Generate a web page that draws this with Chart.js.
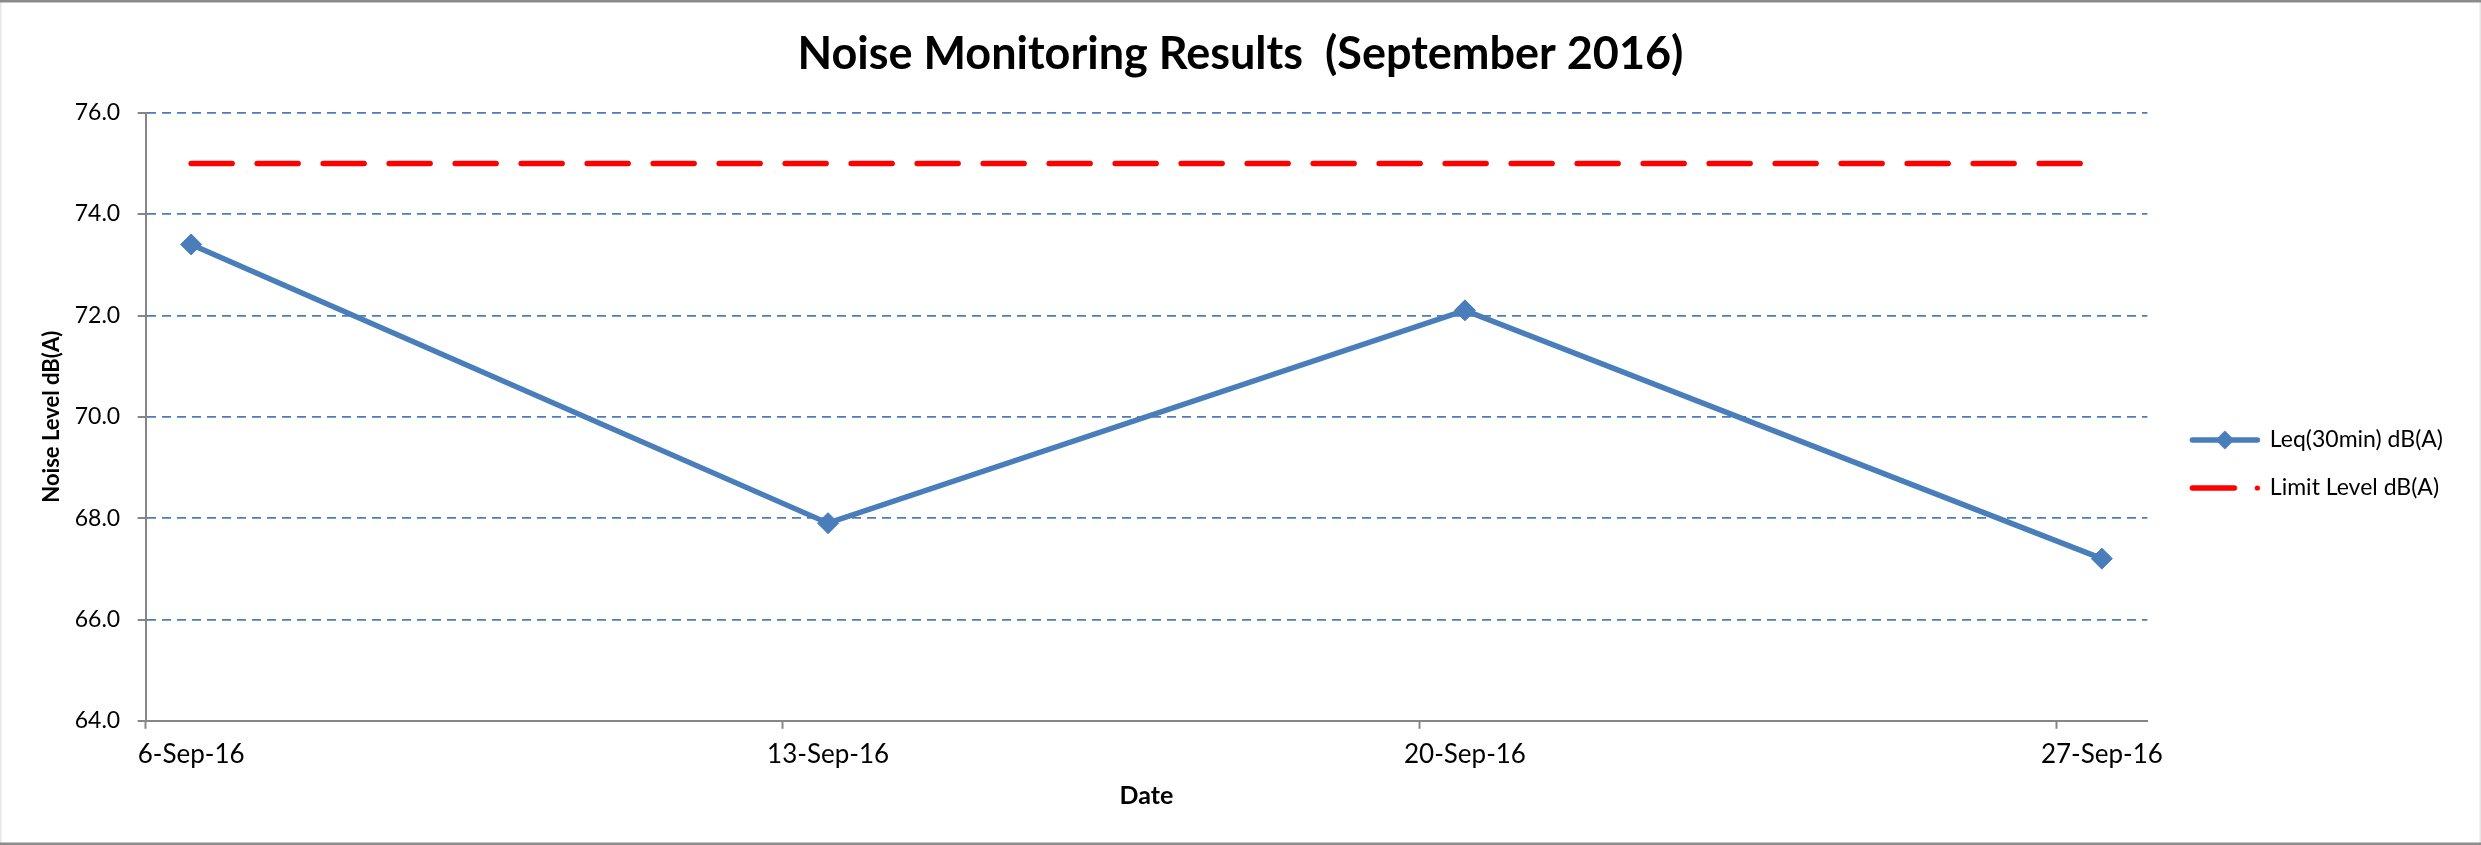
<!DOCTYPE html>
<html>
<head>
<meta charset="utf-8">
<script src="https://cdn.jsdelivr.net/npm/chart.js@4.4.0/dist/chart.umd.min.js"></script>
<style>
  html, body { margin: 0; padding: 0; background: #fff; }
  #wrap { width: 2481px; height: 845px; }
</style>
</head>
<body>
<div id="wrap"><canvas id="chart" width="2481" height="845"></canvas></div>
<script>
// values
const dates = ['2016-09-06', '2016-09-13', '2016-09-20', '2016-09-27'];
const tickLabels = ['6-Sep-16', '13-Sep-16', '20-Sep-16', '27-Sep-16'];
const leqValues = [73.4, 67.9, 72.1, 67.2];
const limitValues = [75, 75, 75, 75];
const axisStart = '2016-09-06';
const axisEnd = '2016-09-28';
const yMin = 64, yMax = 76, yStep = 2;

const BLUE = '#4a7ebb';
const RED = '#ff0000';
const GRID = '#4a7ebb';
const AXIS = '#868686';
const FONT = 'Lato';

const DAY = 86400000;
const dayOf = d => (Date.parse(d) - Date.parse(axisStart)) / DAY;
// excel date axis puts each point in the middle of its day slot
const points = vals => dates.map((d, i) => ({ x: dayOf(d) + 0.5, y: vals[i] }));
const tickDays = dates.map(dayOf);

// legend symbols, drawn the way excel shows them
const ICON_X = 20.5;
function legendIcon(draw) {
  const c = document.createElement('canvas');
  c.width = 93;
  c.height = 24;
  draw(c.getContext('2d'));
  return c;
}

const leqIcon = legendIcon(ctx => {
  ctx.strokeStyle = BLUE;
  ctx.lineWidth = 5.5;
  ctx.lineCap = 'round';
  ctx.beginPath();
  ctx.moveTo(ICON_X + 3, 12);
  ctx.lineTo(ICON_X + 68, 12);
  ctx.stroke();
  ctx.fillStyle = BLUE;
  const cx = ICON_X + 35.5;
  ctx.beginPath();
  ctx.moveTo(cx, 2.5);
  ctx.lineTo(cx + 9.5, 12);
  ctx.lineTo(cx, 21.5);
  ctx.lineTo(cx - 9.5, 12);
  ctx.closePath();
  ctx.fill();
});

const limitIcon = legendIcon(ctx => {
  ctx.strokeStyle = RED;
  ctx.lineWidth = 5.5;
  ctx.lineCap = 'round';
  ctx.beginPath();
  ctx.moveTo(ICON_X + 3, 12);
  ctx.lineTo(ICON_X + 45, 12);
  ctx.stroke();
  ctx.fillStyle = RED;
  ctx.beginPath();
  ctx.arc(ICON_X + 68, 12, 2.6, 0, Math.PI * 2);
  ctx.fill();
});

const frame = {
  id: 'frame',
  beforeDraw(chart) {
    const { ctx, width, height } = chart;
    ctx.save();
    ctx.fillStyle = '#fff';
    ctx.fillRect(0, 0, width, height);
    ctx.restore();
  },
  afterDraw(chart) {
    const { ctx, width, height } = chart;
    ctx.save();
    ctx.fillStyle = '#e6e6e6';
    ctx.fillRect(0, 0, 1.5, height);
    ctx.fillRect(width - 1.5, 0, 1.5, height);
    ctx.fillStyle = '#8c8c8c';
    ctx.fillRect(0, 0, width, 2.5);
    ctx.fillRect(0, height - 2.5, width, 2.5);
    ctx.restore();
  }
};

new Chart(document.getElementById('chart'), {
  type: 'line',
  data: {
    datasets: [
      {
        label: 'Leq(30min) dB(A)',
        data: points(leqValues),
        borderColor: BLUE,
        backgroundColor: BLUE,
        borderWidth: 5.5,
        pointStyle: 'rectRot',
        pointRadius: 10.5,
        pointBorderWidth: 1,
        tension: 0
      },
      {
        label: 'Limit Level dB(A)',
        data: points(limitValues),
        borderColor: RED,
        backgroundColor: RED,
        borderWidth: 5.5,
        borderDash: [41, 25],
        borderCapStyle: 'round',
        pointRadius: 0,
        tension: 0
      }
    ]
  },
  options: {
    responsive: false,
    animation: false,
    devicePixelRatio: 1,
    layout: { padding: { left: 28, right: 28, top: 0, bottom: 34 } },
    plugins: {
      title: {
        display: true,
        text: 'Noise Monitoring Results  (September 2016)',
        color: '#000',
        font: { family: FONT, size: 45, weight: 'bold', lineHeight: 1.2 },
        padding: { top: 27, bottom: 31.7 }
      },
      legend: {
        position: 'right',
        fullSize: false,
        align: 'center',
        title: { display: true, text: ' ', font: { size: 12 }, padding: { top: 80, bottom: 0 } },
        labels: {
          usePointStyle: true,
          pointStyleWidth: 86,
          padding: 25,
          color: '#000',
          font: { family: FONT, size: 23 },
          generateLabels(chart) {
            const items = Chart.defaults.plugins.legend.labels.generateLabels(chart);
            const icons = [leqIcon, limitIcon];
            items.forEach((it, i) => { it.pointStyle = icons[i]; });
            return items;
          }
        }
      },
      tooltip: { enabled: false }
    },
    scales: {
      x: {
        type: 'linear',
        min: dayOf(axisStart),
        max: dayOf(axisEnd),
        afterBuildTicks(scale) {
          scale.ticks = tickDays.map(v => ({ value: v }));
        },
        grid: {
          drawOnChartArea: false,
          drawTicks: true,
          tickLength: 8,
          tickWidth: 2,
          tickColor: AXIS
        },
        border: { display: true, color: AXIS, width: 2 },
        ticks: {
          autoSkip: false,
          maxRotation: 0,
          labelOffset: 45.5,
          padding: 10,
          color: '#000',
          font: { family: FONT, size: 26 },
          callback: (v, i) => tickLabels[i]
        },
        title: {
          display: true,
          text: 'Date',
          color: '#000',
          font: { family: FONT, size: 25, weight: 'bold', lineHeight: 1.2 },
          padding: { top: 1, bottom: 0 }
        }
      },
      y: {
        min: yMin,
        max: yMax,
        ticks: {
          stepSize: yStep,
          padding: 17.5,
          color: '#000',
          font: { family: FONT, size: 23 },
          callback: v => v.toFixed(1)
        },
        grid: {
          color: ctx => (ctx.tick && ctx.tick.value === yMin) ? 'rgba(0,0,0,0)' : GRID,
          lineWidth: 1.8,
          drawTicks: true,
          tickLength: 8,
          tickWidth: 2,
          tickColor: AXIS,
          tickBorderDash: [1, 0]
        },
        border: { display: true, color: AXIS, width: 2, dash: [9, 6] },
        title: {
          display: true,
          text: 'Noise Level dB(A)',
          color: '#000',
          font: { family: FONT, size: 22, weight: 'bold', lineHeight: 1.2 },
          padding: { top: 10.8, bottom: -8 }
        }
      }
    }
  },
  plugins: [frame]
});
</script>
</body>
</html>
